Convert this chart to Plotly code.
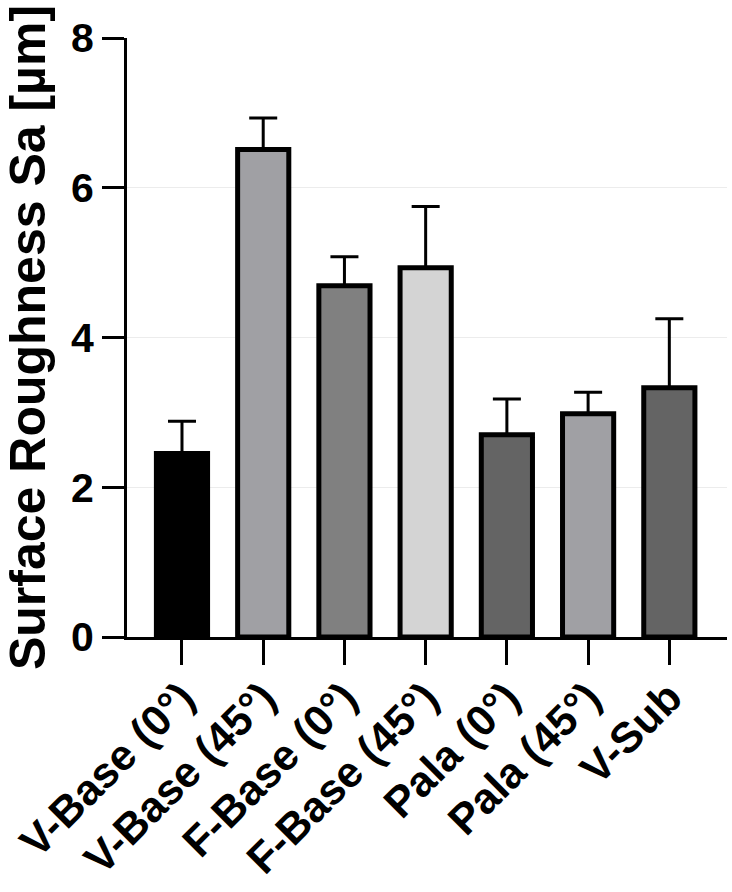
import plotly.graph_objects as go

categories = ["V-Base (0°)", "V-Base (45°)", "F-Base (0°)", "F-Base (45°)",
              "Pala (0°)", "Pala (45°)", "V-Sub"]
means = [2.45, 6.51, 4.69, 4.93, 2.70, 2.98, 3.33]
sds = [0.43, 0.42, 0.39, 0.82, 0.48, 0.29, 0.92]
colors = ["#000000", "#a0a0a4", "#808080", "#d4d4d4", "#646464", "#a0a0a4", "#646464"]
y_ticks = [0, 2, 4, 6, 8]

FONT = "Liberation Sans, Arial, sans-serif"

fig = go.Figure()
fig.add_trace(go.Bar(
    x=list(range(len(categories))),
    y=means,
    width=0.63,
    marker=dict(color=colors, line=dict(color="black", width=5)),
    error_y=dict(type="data", array=sds, arrayminus=[0] * len(sds), symmetric=False,
                 color="black", thickness=3, width=14),
))

fig.update_layout(
    width=732, height=892,
    margin=dict(l=127, r=5, t=38, b=255, autoexpand=False),
    paper_bgcolor="white", plot_bgcolor="white",
    showlegend=False,
    font=dict(family=FONT, color="black"),
)
fig.update_xaxes(
    range=[-0.677, 6.71],
    tickvals=list(range(len(categories))),
    ticktext=categories,
    tickangle=-45,
    tickfont=dict(family=FONT, size=43, weight="bold", color="black"),
    ticklabelstandoff=-10,
    showline=True, linecolor="black", linewidth=3,
    ticks="outside", ticklen=25, tickwidth=3, tickcolor="black",
    showgrid=False, zeroline=False, automargin=False,
)
fig.update_yaxes(
    range=[0, 8],
    tickvals=y_ticks,
    ticktext=[str(v) for v in y_ticks],
    tickfont=dict(family=FONT, size=41, weight="bold", color="black"),
    showline=True, linecolor="black", linewidth=3,
    ticks="outside", ticklen=22, tickwidth=3, tickcolor="black",
    showgrid=True, gridcolor="#ececec", gridwidth=1,
    zeroline=False, automargin=False,
    title=dict(text="Surface Roughness Sa [µm]",
               font=dict(family=FONT, size=50, weight="bold", color="black"),
               standoff=14),
)

fig.write_html("out.html")
